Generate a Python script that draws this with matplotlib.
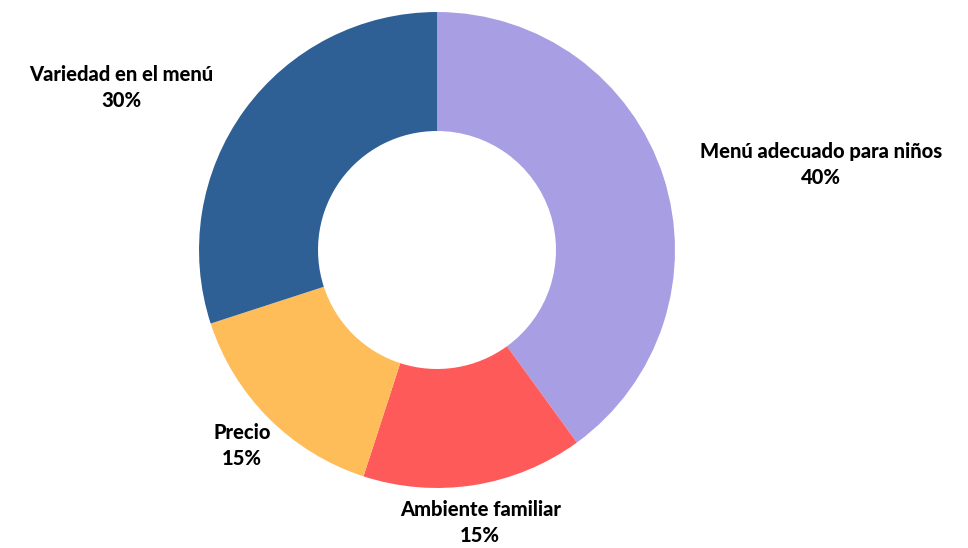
import numpy as np
from matplotlib import pyplot as plt

# data
labels = ["Menú adecuado para niños", "Ambiente familiar", "Precio", "Variedad en el menú"]
values = [40, 15, 15, 30]
colors = ["#A89EE3", "#FF5A5A", "#FFBD59", "#2E6096"]

plt.rcParams['font.family'] = ['Lato', 'DejaVu Sans']

fig = plt.figure(figsize=(9.68, 5.48), dpi=100)
ax = fig.add_axes([0.2056, 0.1095, 0.4917, 0.8686])

wedges, _ = ax.pie(values, colors=colors, startangle=90, counterclock=False,
                   wedgeprops=dict(width=0.5, edgecolor="none"))
ax.set_xlim(-1, 1)
ax.set_ylim(-1, 1)
ax.set_aspect("equal")

# labels sit just outside the ring; the wide wedges push text sideways
align = ["left", "center", "center", "right"]
total = sum(values)
for i, w in enumerate(wedges):
    ang = np.deg2rad((w.theta1 + w.theta2) / 2)
    x = 1.16 * np.cos(ang)
    y = 1.16 * np.sin(ang)
    pct = round(100 * values[i] / total)
    ax.text(x, y, f"{labels[i]}\n{pct}%", ha=align[i], va="center",
            multialignment="center", fontsize=14.5, fontweight="black",
            linespacing=1.45, color="black")

fig.savefig("out.png", dpi=100)
